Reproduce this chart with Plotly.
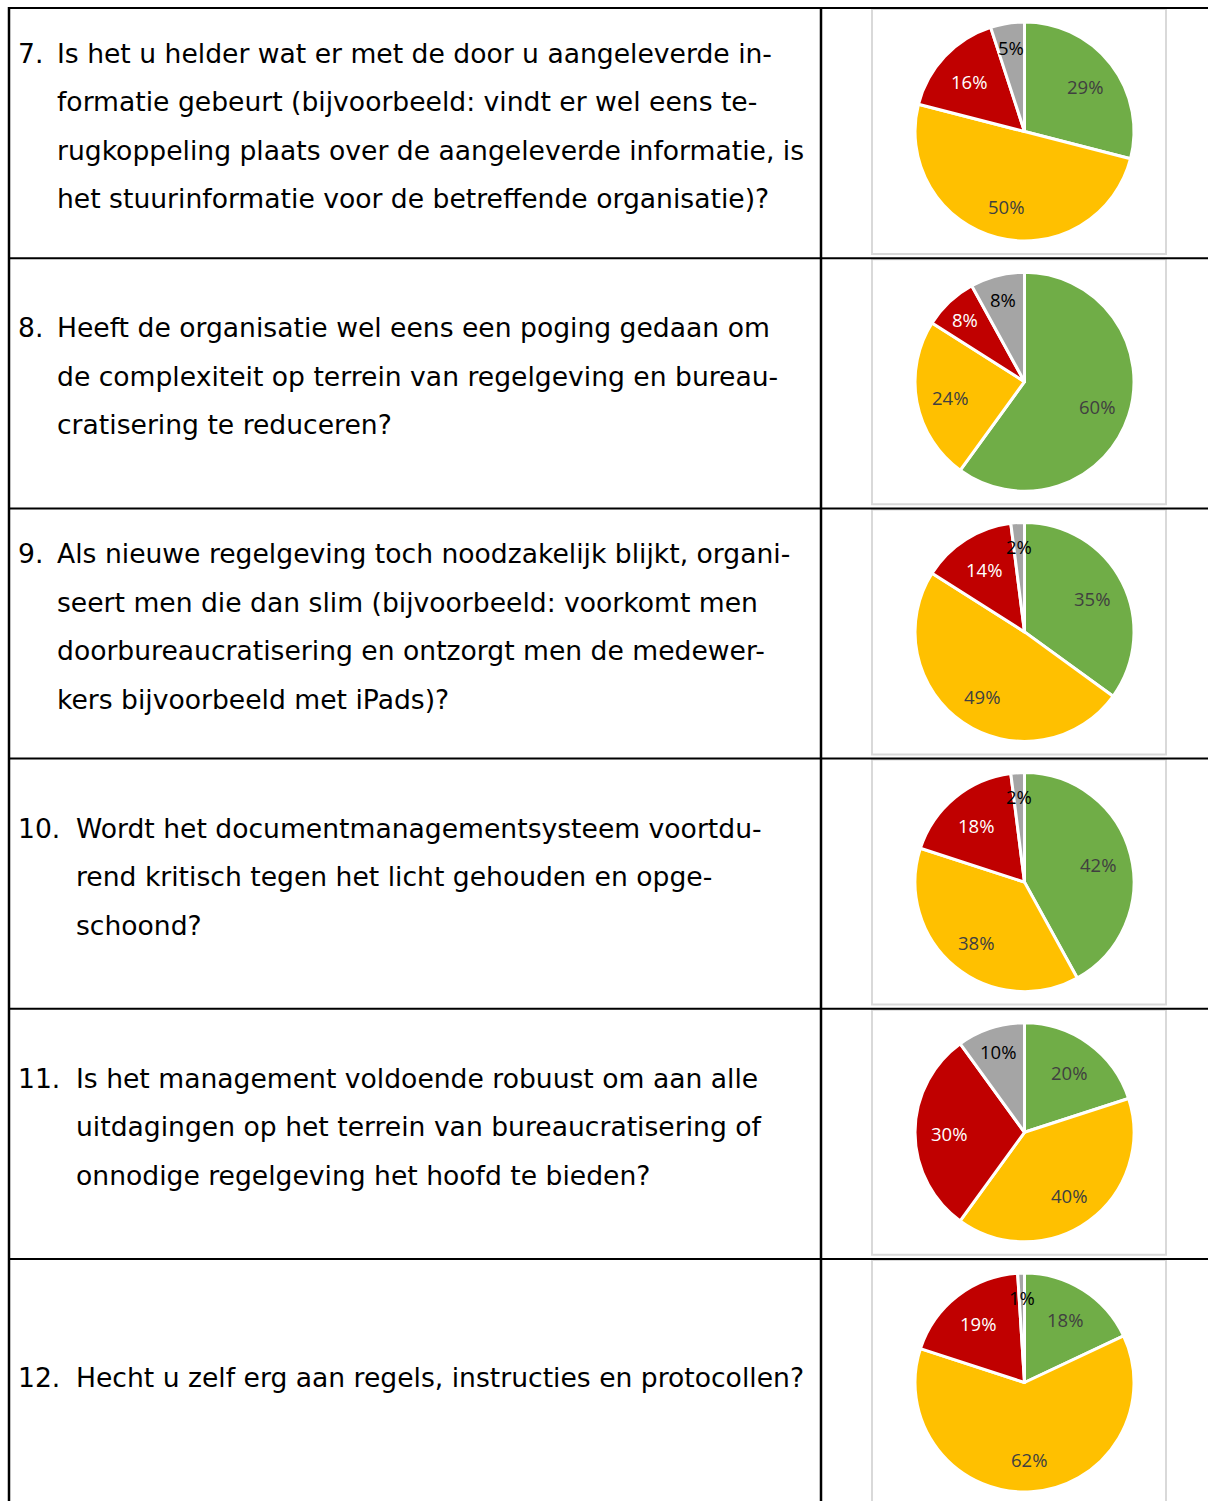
import math
import plotly.graph_objects as go

W, H = 1208, 1501

# ---------------- data ----------------
categories = ["Groen", "Geel", "Rood", "Grijs"]
slice_colors = ["#70AD47", "#FFC000", "#C00000", "#A5A5A5"]
label_colors = ["#404040", "#404040", "#FFFFFF", "#000000"]

q_numbers = ["7.", "8.", "9.", "10.", "11.", "12."]

q7_lines = [
    "Is het u helder wat er met de door u aangeleverde in-",
    "formatie gebeurt (bijvoorbeeld: vindt er wel eens te-",
    "rugkoppeling plaats over de aangeleverde informatie, is",
    "het stuurinformatie voor de betreffende organisatie)?",
]
q8_lines = [
    "Heeft de organisatie wel eens een poging gedaan om",
    "de complexiteit op terrein van regelgeving en bureau-",
    "cratisering te reduceren?",
]
q9_lines = [
    "Als nieuwe regelgeving toch noodzakelijk blijkt, organi-",
    "seert men die dan slim (bijvoorbeeld: voorkomt men",
    "doorbureaucratisering en ontzorgt men de medewer-",
    "kers bijvoorbeeld met iPads)?",
]
q10_lines = [
    "Wordt het documentmanagementsysteem voortdu-",
    "rend kritisch tegen het licht gehouden en opge-",
    "schoond?",
]
q11_lines = [
    "Is het management voldoende robuust om aan alle",
    "uitdagingen op het terrein van bureaucratisering of",
    "onnodige regelgeving het hoofd te bieden?",
]
q12_lines = [
    "Hecht u zelf erg aan regels, instructies en protocollen?",
]

q7_values = [29, 50, 16, 5]
q8_values = [60, 24, 8, 8]
q9_values = [35, 49, 14, 2]
q10_values = [42, 38, 18, 2]
q11_values = [20, 40, 30, 10]
q12_values = [18, 62, 19, 1]

questions = [q7_lines, q8_lines, q9_lines, q10_lines, q11_lines, q12_lines]
values_all = [q7_values, q8_values, q9_values, q10_values, q11_values, q12_values]

# ---------------- layout geometry ----------------
row_top0 = 8
row_h = 250.2
left_x = 9
div_x = 821
box_x0, box_x1 = 872, 1166
pie_cx = 1024.5
pie_R = 109.5
line_gap = 48.4
TXT_FONT = dict(family="DejaVu Sans", size=26.6, color="black")

fig = go.Figure()
shapes = []
annotations = []

for i, (lines, vals) in enumerate(zip(questions, values_all)):
    top = row_top0 + i * row_h
    pie_cy = top + 123.5

    # chart frame (light gray box)
    bottom = top + 246 if i < 5 else H + 5
    shapes.append(dict(type="rect", xref="x", yref="y", x0=box_x0, x1=box_x1,
                       y0=top + 1, y1=bottom, line=dict(color="#D9D9D9", width=2),
                       fillcolor="rgba(0,0,0,0)", layer="below"))

    fig.add_trace(go.Pie(
        labels=categories, values=vals, sort=False, direction="clockwise",
        rotation=0, textinfo="none", hoverinfo="label+percent",
        marker=dict(colors=slice_colors, line=dict(color="white", width=3)),
        domain=dict(x=[(pie_cx - pie_R) / W, (pie_cx + pie_R) / W],
                    y=[1 - (pie_cy + pie_R) / H, 1 - (pie_cy - pie_R) / H]),
        showlegend=False,
    ))

    # data labels computed from the values
    total = sum(vals)
    cum = 0
    for v, col in zip(vals, label_colors):
        mid = (cum + v / 2) / total * 2 * math.pi
        cum += v
        f = 0.70 if v > 10 else 0.80
        r = f * 108.5
        lx = pie_cx + r * math.sin(mid)
        ly = pie_cy - r * math.cos(mid) + 1.5
        annotations.append(dict(x=lx, y=ly, xref="x", yref="y", text=f"{v}%",
                                showarrow=False, xanchor="center", yanchor="middle",
                                font=dict(family="Open Sans", size=18.5, color=col)))

    # question text
    n = len(lines)
    center = top + 125 - 7
    num = q_numbers[i]
    indent = 56 if len(num) == 2 else 75
    for k, ln in enumerate(lines):
        y = center + (k - (n - 1) / 2) * line_gap
        if k == 0:
            annotations.append(dict(x=16, y=y, xref="x", yref="y", text=num,
                                    showarrow=False, xanchor="left", yanchor="middle",
                                    font=TXT_FONT))
        annotations.append(dict(x=indent - 1, y=y, xref="x", yref="y", text=ln,
                                showarrow=False, xanchor="left", yanchor="middle",
                                font=TXT_FONT))

    # horizontal table line
    shapes.append(dict(type="line", xref="x", yref="y", x0=left_x - 1, x1=W + 5,
                       y0=top, y1=top, line=dict(color="black", width=2)))

# vertical table lines
for xv in (left_x, div_x):
    shapes.append(dict(type="line", xref="x", yref="y", x0=xv, x1=xv,
                       y0=row_top0 - 1, y1=H + 5, line=dict(color="black", width=2.5)))

fig.update_layout(
    width=W, height=H,
    margin=dict(l=0, r=0, t=0, b=0),
    paper_bgcolor="white", plot_bgcolor="white",
    xaxis=dict(range=[0, W], visible=False, fixedrange=True),
    yaxis=dict(range=[H, 0], visible=False, fixedrange=True),
    shapes=shapes, annotations=annotations,
    showlegend=False,
)

fig.write_html(
    "out.html",
    config={"displayModeBar": False},
    post_script="document.body.style.margin='0';document.body.style.padding='0';"
                "document.body.style.overflow='hidden';",
)
